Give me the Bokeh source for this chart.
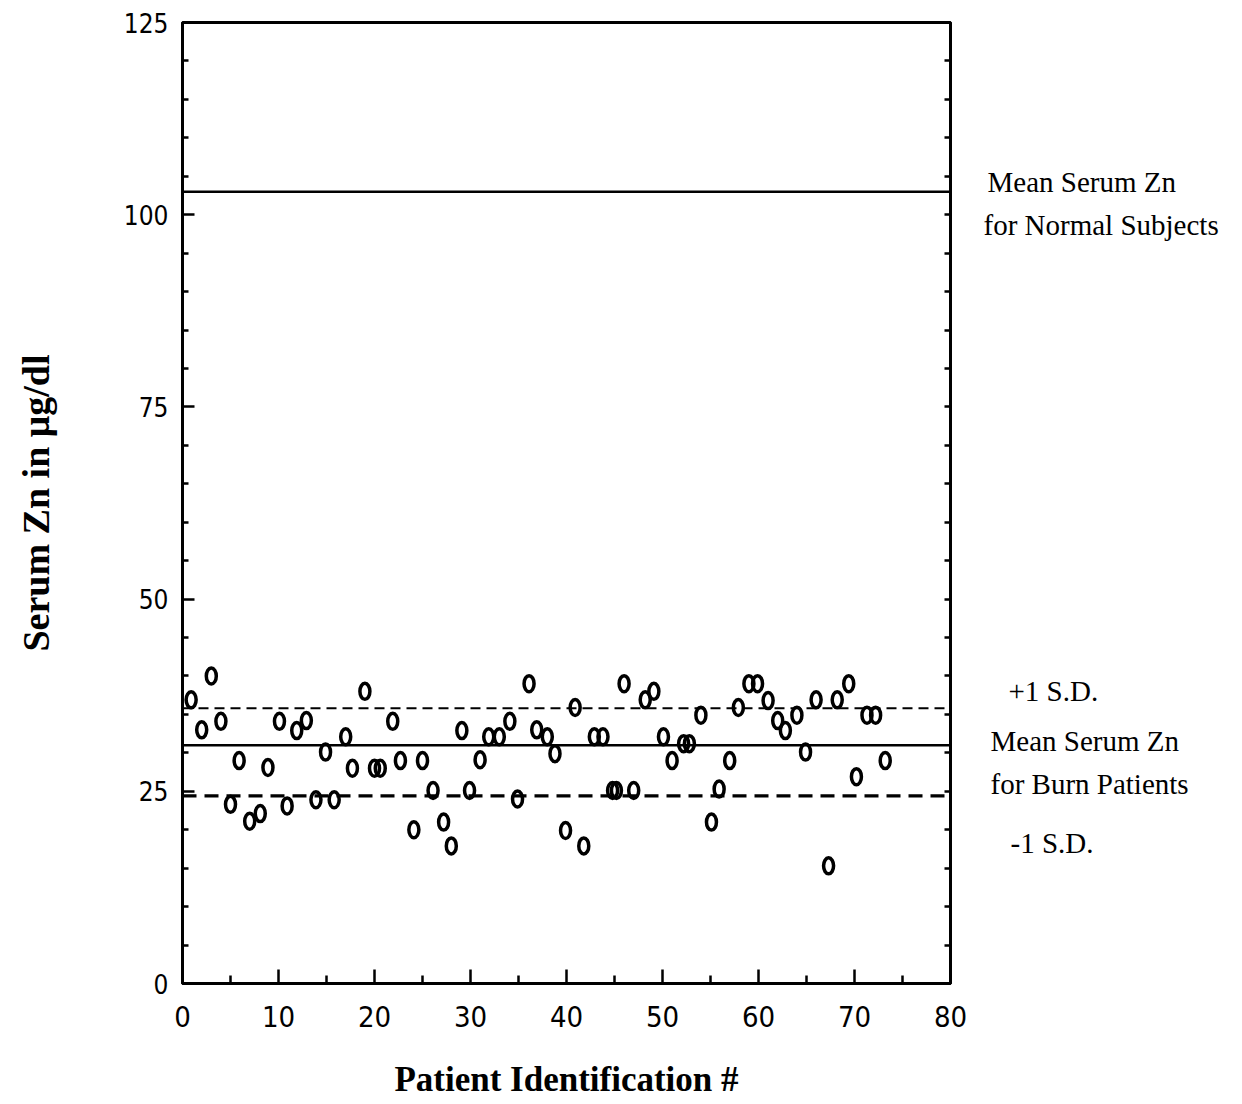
from bokeh.plotting import figure
from bokeh.layouts import row
from bokeh.models import Range1d, FixedTicker, LinearAxis, Span
from bokeh.core.properties import value
from bokeh.embed import file_html
from bokeh.resources import INLINE

# ---- data ----
patient_id = [0.9, 2.0, 3.0, 4.0, 5.0, 5.9, 7.0, 8.1, 8.9, 10.1, 10.9, 11.9, 12.9,
              13.9, 14.9, 15.8, 17.0, 17.7, 19.0, 20.0, 20.6, 21.9, 22.7, 24.1, 25.0,
              26.1, 27.2, 28.0, 29.1, 29.9, 31.0, 31.9, 33.0, 34.1, 34.9, 36.1, 36.9,
              38.0, 38.8, 39.9, 40.9, 41.8, 42.9, 43.8, 44.8, 45.2, 46.0, 47.0, 48.2,
              49.1, 50.1, 51.0, 52.2, 52.8, 54.0, 55.1, 55.9, 57.0, 57.9, 59.0, 59.9,
              61.0, 62.0, 62.8, 64.0, 64.9, 66.0, 67.3, 68.2, 69.4, 70.2, 71.3, 72.2, 73.2]
serum_zn = [36.9, 33.0, 40.0, 34.1, 23.3, 29.0, 21.1, 22.1, 28.1, 34.1, 23.1, 32.9, 34.2,
            23.9, 30.1, 23.9, 32.1, 28.0, 38.0, 28.0, 28.0, 34.1, 29.0, 20.0, 29.0,
            25.1, 21.0, 17.9, 32.9, 25.1, 29.1, 32.1, 32.1, 34.1, 24.0, 39.0, 33.0,
            32.1, 29.9, 19.9, 35.9, 17.9, 32.1, 32.1, 25.1, 25.1, 39.0, 25.1, 36.9,
            38.0, 32.1, 29.0, 31.2, 31.2, 34.9, 21.0, 25.3, 29.0, 35.9, 39.0, 39.0,
            36.8, 34.2, 32.9, 34.9, 30.1, 36.9, 15.3, 36.9, 39.0, 26.9, 34.9, 34.9, 29.0]

normal_mean = 103.0
burn_mean = 31.0
burn_plus_sd = 35.8
burn_minus_sd = 24.4

x_ticks = [0, 10, 20, 30, 40, 50, 60, 70, 80]
x_minor = [5, 15, 25, 35, 45, 55, 65, 75]
y_ticks = [0, 25, 50, 75, 100, 125]
y_minor = [v for v in range(0, 126, 5) if v % 25 != 0]

x_title = "Patient Identification #"
y_title = "Serum Zn in \u03bcg/dl"

note_texts = ["Mean Serum Zn", "for Normal Subjects", "+1 S.D.",
              "Mean Serum Zn", "for Burn Patients", "-1 S.D."]
# label anchor positions (annotation placement, not data)
note_x = [17, 13, 38, 20, 20, 40]
note_y = [104.2, 98.7, 38.1, 31.6, 26.0, 18.3]

SANS = "'Liberation Sans Narrow', 'DejaVu Sans Condensed', 'Liberation Sans', sans-serif"
SERIF = "Liberation Serif"

p = figure(width=970, height=1104, x_range=Range1d(0, 80), y_range=Range1d(0, 125),
           output_backend="svg", toolbar_location=None,
           min_border_left=182, min_border_right=20, min_border_top=22, min_border_bottom=121)
p.xgrid.visible = False
p.ygrid.visible = False
p.outline_line_color = "black"
p.outline_line_width = 3
p.background_fill_color = "white"
p.border_fill_color = "white"

xa = p.xaxis[0]
xa.ticker = FixedTicker(ticks=x_ticks, minor_ticks=x_minor)
xa.axis_line_width = 3
xa.major_tick_in = 14
xa.major_tick_out = 0
xa.minor_tick_in = 8
xa.minor_tick_out = 0
xa.major_tick_line_width = 2.5
xa.minor_tick_line_width = 2.5
xa.major_label_text_font = SANS
xa.major_label_text_font_size = "29px"
xa.major_label_text_color = "black"
xa.major_label_standoff = 22
xa.axis_label = x_title
xa.axis_label_text_font = SERIF
xa.axis_label_text_font_style = "bold"
xa.axis_label_text_font_size = "35px"
xa.axis_label_text_color = "black"
xa.axis_label_standoff = 30

ya = p.yaxis[0]
ya.ticker = FixedTicker(ticks=y_ticks, minor_ticks=y_minor)
ya.axis_line_width = 3
ya.major_tick_in = 12
ya.major_tick_out = 0
ya.minor_tick_in = 6
ya.minor_tick_out = 0
ya.major_tick_line_width = 2.5
ya.minor_tick_line_width = 2.5
ya.major_label_text_font = SANS
ya.major_label_text_font_size = "26px"
ya.major_label_text_color = "black"
ya.major_label_standoff = 14
ya.axis_label = y_title
ya.axis_label_text_font = SERIF
ya.axis_label_text_font_style = "bold"
ya.axis_label_text_font_size = "38px"
ya.axis_label_text_color = "black"
ya.axis_label_standoff = 64

ra = LinearAxis(ticker=FixedTicker(ticks=y_ticks, minor_ticks=y_minor))
ra.axis_line_width = 3
ra.major_tick_in = 6
ra.major_tick_out = 0
ra.minor_tick_in = 6
ra.minor_tick_out = 0
ra.major_tick_line_width = 2.5
ra.minor_tick_line_width = 2.5
ra.major_label_overrides = {t: "" for t in y_ticks}
ra.major_label_standoff = 0
p.add_layout(ra, "right")

# reference lines
p.add_layout(Span(location=normal_mean, dimension="width", line_color="black", line_width=2.5))
p.add_layout(Span(location=burn_mean, dimension="width", line_color="black", line_width=2.5))
p.add_layout(Span(location=burn_plus_sd, dimension="width", line_color="black", line_width=2.2,
                  line_dash="10 6"))
p.add_layout(Span(location=burn_minus_sd, dimension="width", line_color="black", line_width=3.2,
                  line_dash="14 8"))

# data points (open "0"-shaped ovals)
p.ellipse(x=patient_id, y=serum_zn, width=10, height=16, width_units="screen",
          height_units="screen", fill_color=None, line_color="black", line_width=3.5)

# right-hand annotation panel sharing the y scale
p2 = figure(width=272, height=1104, x_range=Range1d(0, 272), y_range=p.y_range,
            output_backend="svg", toolbar_location=None,
            x_axis_type=None, y_axis_type=None,
            min_border_left=0, min_border_right=0, min_border_top=22, min_border_bottom=121)
p2.xgrid.visible = False
p2.ygrid.visible = False
p2.outline_line_color = None
p2.background_fill_color = "white"
p2.border_fill_color = "white"
p2.text(x=note_x, y=note_y, text=note_texts, text_font=value(SERIF), text_font_size="29px",
        text_baseline="middle", text_align="left", text_color="black")

layout = row(p, p2)
open("out.html", "w").write(file_html(layout, INLINE))
